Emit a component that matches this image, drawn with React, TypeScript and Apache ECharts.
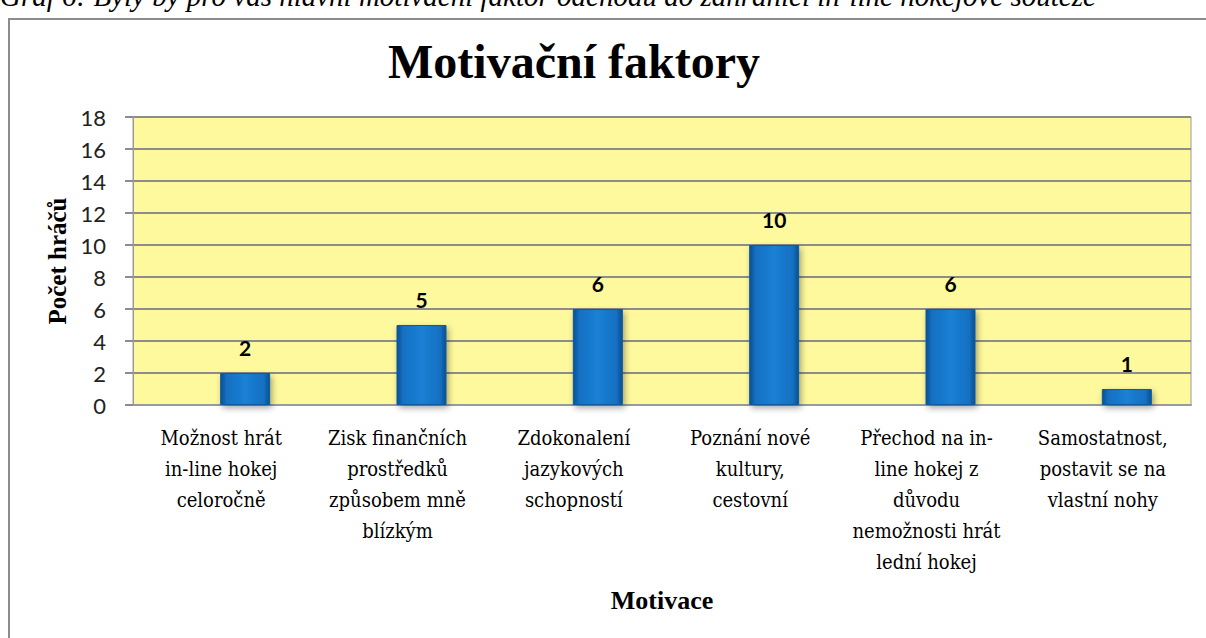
import React, { useEffect, useRef } from "react";
import * as echarts from "echarts";

const categories = [
  "Možnost hrát\nin-line hokej\nceloročně",
  "Zisk finančních\nprostředků\nzpůsobem mně\nblízkým",
  "Zdokonalení\njazykových\nschopností",
  "Poznání nové\nkultury,\ncestovní",
  "Přechod na in-\nline hokej z\ndůvodu\nnemožnosti hrát\nlední hokej",
  "Samostatnost,\npostavit se na\nvlastní nohy",
];
const values = [2, 5, 6, 10, 6, 1];
const ghost = [0, 0, 0, 0, 0, 0];
const titleText = "Motivační faktory";
const captionText =
  "Graf 6: Byly by pro vás hlavní motivační faktor odchodu do zahraničí in-line hokejové soutěže";

export default function App() {
  const ref = useRef<HTMLDivElement>(null);
  useEffect(() => {
    if (!ref.current) return;
    const chart = echarts.init(ref.current, null, { renderer: "svg" });
    const sans = "Lato";
    chart.setOption({
      animation: false,
      backgroundColor: "#ffffff",
      graphic: [
        {
          type: "rect",
          shape: { x: 9, y: 19, width: 1400, height: 800 },
          style: { fill: "none", stroke: "#8c8c8c", lineWidth: 2 },
          silent: true,
        },
        {
          type: "text",
          x: 0,
          y: 10,
          style: {
            text: captionText,
            font: "italic 29px 'Liberation Serif'",
            fill: "#000",
            verticalAlign: "bottom",
          },
          silent: true,
        },
        {
          type: "text",
          x: 574,
          y: 61,
          style: {
            text: titleText,
            font: "bold 48px 'Liberation Serif'",
            fill: "#000",
            align: "center",
            verticalAlign: "middle",
          },
          silent: true,
        },
      ],
      grid: {
        left: 133,
        right: 15,
        top: 117,
        bottom: 233,
        show: true,
        backgroundColor: "#FEF99C",
        borderColor: "#9a9a9a",
        borderWidth: 1,
      },
      xAxis: {
        type: "category",
        data: categories,
        name: "Motivace",
        nameLocation: "middle",
        nameGap: 182,
        nameTextStyle: { fontFamily: "Liberation Serif", fontWeight: "bold", fontSize: 26, color: "#000" },
        axisLine: { show: true, lineStyle: { color: "#9a9a9a", width: 2 } },
        axisTick: { show: false },
        axisLabel: {
          interval: 0,
          margin: 17,
          fontFamily: "'DejaVu Serif Condensed', 'DejaVu Serif', 'Liberation Serif', serif",
          fontSize: 20,
          lineHeight: 31,
          color: "#000",
        },
      },
      yAxis: {
        type: "value",
        min: 0,
        max: 18,
        interval: 2,
        name: "Počet hráčů",
        nameLocation: "middle",
        nameGap: 62,
        nameRotate: 90,
        nameTextStyle: { fontFamily: "Liberation Serif", fontWeight: "bold", fontSize: 25, color: "#000" },
        axisLine: { show: true, lineStyle: { color: "#9a9a9a", width: 1 } },
        axisTick: { show: true, length: 8, lineStyle: { color: "#8c8c8c", width: 2 } },
        axisLabel: { margin: 27, fontFamily: sans, fontSize: 22, color: "#222" },
        splitLine: { show: true, lineStyle: { color: "#8c8c8c", width: 2 } },
      },
      series: [
        {
          type: "bar",
          data: ghost,
          barWidth: 48,
          barGap: "0%",
          silent: true,
          itemStyle: { color: "transparent" },
          label: { show: false },
        },
        {
          type: "bar",
          data: values,
          barWidth: 50,
          itemStyle: {
            color: {
              type: "linear",
              x: 0,
              y: 0,
              x2: 1,
              y2: 0,
              colorStops: [
                { offset: 0, color: "#0b4f92" },
                { offset: 0.12, color: "#1470c2" },
                { offset: 0.5, color: "#1b80d4" },
                { offset: 0.88, color: "#1470c2" },
                { offset: 1, color: "#0b4f92" },
              ],
            },
            borderColor: "#0d5aa0",
            borderWidth: 1,
            shadowColor: "rgba(0,0,0,0.35)",
            shadowBlur: 6,
            shadowOffsetX: 2,
            shadowOffsetY: 3,
          },
          label: {
            show: true,
            position: "top",
            distance: 15,
            fontFamily: sans,
            fontWeight: "bold",
            fontSize: 21,
            color: "#000",
          },
        },
      ],
    });
    return () => chart.dispose();
  }, []);
  return (
    <div
      ref={ref}
      style={{ position: "absolute", left: 0, top: 0, width: 1206, height: 638 }}
    />
  );
}
